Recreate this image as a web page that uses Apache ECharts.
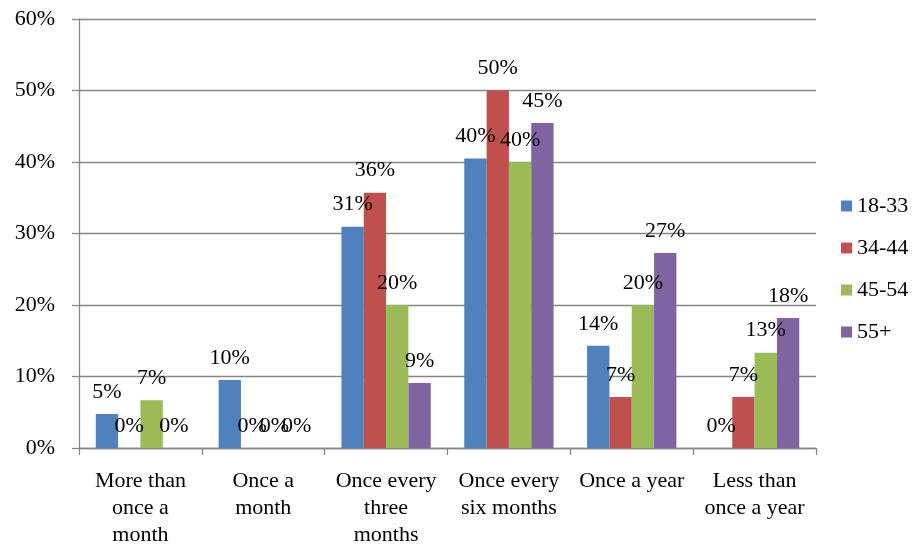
<!DOCTYPE html>
<html>
<head>
<meta charset="utf-8">
<script src="https://cdn.jsdelivr.net/npm/echarts@6/dist/echarts.min.js"></script>
<style>
  html, body { margin: 0; padding: 0; background: #fff; }
  #chart { width: 914px; height: 549px; }
</style>
</head>
<body>
<div id="chart"></div>
<script>
// 類別與各年齡層數值(%)
const categories = [
  "More than\nonce a\nmonth",
  "Once a\nmonth",
  "Once every\nthree\nmonths",
  "Once every\nsix months",
  "Once a year",
  "Less than\nonce a year"
];
const age18to33 = [4.76, 9.52, 30.95, 40.48, 14.29, 0];
const age34to44 = [0, 0, 35.71, 50.0, 7.14, 7.14];
const age45to54 = [6.67, 0, 20.0, 40.0, 20.0, 13.33];
const age55plus = [0, 0, 9.09, 45.45, 27.27, 18.18];
const seriesNames = ["18-33", "34-44", "45-54", "55+"];
const colors = ["#4F81BD", "#C0504D", "#9BBB59", "#8064A2"];

const font = "Liberation Serif";
const fontSize = 22;

const chart = echarts.init(document.getElementById("chart"));

const makeSeries = (name, data, idx) => ({
  name: name,
  type: "bar",
  data: data,
  barGap: "0%",
  barCategoryGap: "27.3%",
  itemStyle: { color: colors[idx] },
  label: {
    show: true,
    position: "top",
    distance: 11,
    color: "#000",
    fontFamily: font,
    fontSize: fontSize,
    formatter: p => Math.round(p.value) + "%"
  }
});

const option = {
  backgroundColor: "#fff",
  animation: false,
  grid: { left: 79, right: 98, top: 19, bottom: 97 },
  legend: {
    orient: "vertical",
    left: 836,
    top: 190,
    itemWidth: 11,
    itemHeight: 11,
    itemGap: 20,
    icon: "rect",
    textStyle: { fontFamily: font, fontSize: fontSize, color: "#000" },
    data: seriesNames
  },
  xAxis: {
    type: "category",
    data: categories,
    axisLine: { lineStyle: { color: "#868686", width: 1.3 } },
    axisTick: { show: true, length: 7, lineStyle: { color: "#868686", width: 1.3 } },
    axisLabel: {
      interval: 0,
      margin: 20,
      color: "#000",
      fontFamily: font,
      fontSize: fontSize,
      lineHeight: 27
    }
  },
  yAxis: {
    type: "value",
    min: 0,
    max: 60,
    interval: 10,
    axisLine: { show: true, lineStyle: { color: "#868686", width: 1.3 } },
    axisTick: { show: true, length: 7, lineStyle: { color: "#868686", width: 1.3 } },
    axisLabel: {
      margin: 24,
      color: "#000",
      fontFamily: font,
      fontSize: fontSize,
      formatter: "{value}%"
    },
    splitLine: { lineStyle: { color: "#868686", width: 1.3 } }
  },
  series: [
    makeSeries(seriesNames[0], age18to33, 0),
    makeSeries(seriesNames[1], age34to44, 1),
    makeSeries(seriesNames[2], age45to54, 2),
    makeSeries(seriesNames[3], age55plus, 3)
  ]
};

chart.setOption(option);
</script>
</body>
</html>
